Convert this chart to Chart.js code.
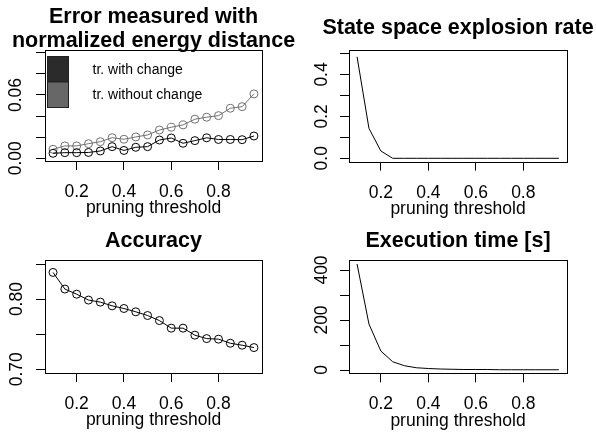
<!DOCTYPE html>
<html lang="en">
<head>
<meta charset="UTF-8" />
<title>Pruning threshold</title>
<style>
  body { margin: 0; background: #fff; }
  .wrap { position: relative; width: 596px; height: 432px; }
  .wrap canvas { position: absolute; left: 0; top: 0; }
</style>
</head>
<body>
<div class="wrap">
  <canvas id="err" width="596" height="432"></canvas>
  <canvas id="expl" width="596" height="432"></canvas>
  <canvas id="acc" width="596" height="432"></canvas>
  <canvas id="time" width="596" height="432"></canvas>
</div>

<script src="https://cdn.jsdelivr.net/npm/chart.js@4.4.0/dist/chart.umd.min.js"></script>
<script>
// ---- data ----
const thresholds = [0.1, 0.15, 0.2, 0.25, 0.3, 0.35, 0.4, 0.45, 0.5, 0.55, 0.6, 0.65, 0.7, 0.75, 0.8, 0.85, 0.9, 0.95];
const errWithChange = [0.0047, 0.0053, 0.0053, 0.0055, 0.0069, 0.0110, 0.0074, 0.0104, 0.0110, 0.0173, 0.0192, 0.0142, 0.0167, 0.0194, 0.0178, 0.0178, 0.0176, 0.0211];
const errWithoutChange = [0.0085, 0.0117, 0.0117, 0.0138, 0.0157, 0.0195, 0.0180, 0.0202, 0.0221, 0.0268, 0.0294, 0.0316, 0.0370, 0.0389, 0.0404, 0.0474, 0.0489, 0.0610];
const explosionRate = [0.484, 0.143, 0.035, 0, 0, 0, 0, 0, 0, 0, 0, 0, 0, 0, 0, 0, 0, 0];
const accuracy = [0.838, 0.8143, 0.807, 0.7986, 0.7957, 0.7904, 0.7866, 0.7819, 0.7766, 0.7694, 0.7586, 0.7586, 0.7486, 0.7437, 0.7429, 0.7371, 0.7343, 0.7309];
const execTime = [424, 184, 76, 33, 17, 9, 6, 4, 3, 2, 2, 2, 1, 1, 1, 1, 1, 1];

const xTicks = [0.2, 0.4, 0.6, 0.8];
const xTickLabels = ["0.2", "0.4", "0.6", "0.8"];
const errTicks = [0, 0.02, 0.04, 0.06, 0.08, 0.10];
const errTickLabels = ["0.00", "", "", "0.06", "", ""];
const explTicks = [0, 0.1, 0.2, 0.3, 0.4, 0.5];
const explTickLabels = ["0.0", "", "0.2", "", "0.4", ""];
const accTicks = [0.70, 0.75, 0.80, 0.85];
const accTickLabels = ["0.70", "", "0.80", ""];
const timeTicks = [0, 100, 200, 300, 400];
const timeTickLabels = ["0", "", "200", "", "400"];

// ---- look ----
const FONT = "'Liberation Sans', Arial, Helvetica, sans-serif";
const TICK_SIZE = 17.5;
const TICK_LEN = 9;
const X_AXIS_H = 55;
const W = 596, H = 432;

Chart.defaults.font.family = FONT;
Chart.defaults.color = "#000";

const measure = document.createElement("canvas").getContext("2d");
function yPadding(box, labels, midX) {
  measure.font = TICK_SIZE + "px " + FONT;
  const widest = Math.max(...labels.map(l => measure.measureText(l).width));
  return box.l - TICK_LEN - midX - widest / 2;
}

const points = ys => thresholds.map((x, i) => ({ x: x, y: ys[i] }));

const rBox = {
  id: "rBox",
  afterDatasetsDraw(chart) {
    const a = chart.chartArea, ctx = chart.ctx;
    ctx.save();
    ctx.strokeStyle = "#000";
    ctx.lineWidth = 1;
    ctx.strokeRect(Math.round(a.left) + 0.5, Math.round(a.top) + 0.5,
      Math.round(a.right) - Math.round(a.left), Math.round(a.bottom) - Math.round(a.top));
    ctx.restore();
  }
};

const rTitle = {
  id: "rTitle",
  afterDraw(chart, args, opts) {
    const a = chart.chartArea, ctx = chart.ctx;
    ctx.save();
    ctx.font = "bold 21.5px " + FONT;
    ctx.fillStyle = "#000";
    ctx.textAlign = "center";
    ctx.textBaseline = "alphabetic";
    opts.lines.forEach((t, i) => ctx.fillText(t, (a.left + a.right) / 2, opts.baselines[i]));
    ctx.restore();
  }
};

const rLegend = {
  id: "rLegend",
  afterDraw(chart, args, opts) {
    if (!opts.fills) return;
    const a = chart.chartArea, ctx = chart.ctx;
    ctx.save();
    ctx.font = "14px " + FONT;
    ctx.textBaseline = "middle";
    ctx.textAlign = "left";
    chart.data.datasets.forEach((ds, i) => {
      const x = a.left + 2.5, y = a.top + 6.5 + i * 25.5;
      ctx.fillStyle = opts.fills[i];
      ctx.fillRect(x, y, 21, 25.5);
      ctx.strokeStyle = "#222";
      ctx.lineWidth = 1;
      ctx.strokeRect(x, y, 21, 25.5);
      ctx.fillStyle = "#000";
      ctx.fillText(ds.label, a.left + 47.5, y + 13.5);
    });
    ctx.restore();
  }
};

function panel(id, box, y, datasets, title, legend) {
  return new Chart(document.getElementById(id), {
    type: "line",
    data: { datasets: datasets },
    plugins: [rBox, rTitle, rLegend],
    options: {
      responsive: false,
      animation: false,
      layout: { padding: { left: 0, top: box.t, right: W - box.r, bottom: H - box.b - X_AXIS_H } },
      plugins: {
        legend: { display: false },
        tooltip: { enabled: false },
        rTitle: title,
        rLegend: legend || {}
      },
      elements: { line: { tension: 0 } },
      scales: {
        x: {
          type: "linear",
          bounds: "data",
          min: 0.066, max: 0.984,
          afterBuildTicks: s => { s.ticks = xTicks.map(v => ({ value: v })); },
          afterFit: s => { s.height = X_AXIS_H; },
          ticks: {
            autoSkip: false, maxRotation: 0, padding: 11.5,
            font: { size: TICK_SIZE },
            callback: (v, i) => xTickLabels[i]
          },
          grid: { drawOnChartArea: false, drawTicks: true, tickLength: TICK_LEN, color: "#000" },
          border: { display: false },
          title: { display: true, text: "pruning threshold", font: { size: TICK_SIZE }, padding: { top: 0, bottom: -3 } }
        },
        y: {
          type: "linear",
          bounds: "data",
          min: y.min, max: y.max,
          afterBuildTicks: s => { s.ticks = y.ticks.map(v => ({ value: v })); },
          afterFit: s => { s.width = box.l; },
          ticks: {
            autoSkip: false, minRotation: 90, maxRotation: 90, crossAlign: "center",
            padding: yPadding(box, y.labels, y.midX),
            font: { size: TICK_SIZE },
            callback: (v, i) => y.labels[i]
          },
          grid: { drawOnChartArea: false, drawTicks: true, tickLength: TICK_LEN, color: "#000" },
          border: { display: false }
        }
      }
    }
  });
}

const dotted = (label, ys, color) => ({
  label: label, data: points(ys), borderColor: color, borderWidth: 1,
  pointRadius: 4, pointBorderColor: color, pointBorderWidth: 1,
  pointBackgroundColor: "rgba(0,0,0,0)", backgroundColor: "rgba(0,0,0,0)"
});
const plain = (label, ys) => ({
  label: label, data: points(ys), borderColor: "#000", borderWidth: 1, pointRadius: 0
});

panel("err", { l: 45, t: 50, r: 262, b: 161 },
  { min: -0.0026, max: 0.1026, ticks: errTicks, labels: errTickLabels, midX: 16 },
  [dotted("tr. with change", errWithChange, "#000"),
   dotted("tr. without change", errWithoutChange, "#707070")],
  { lines: ["Error measured with", "normalized energy distance"], baselines: [23, 47] },
  { fills: ["#2b2b2b", "#676767"] });

panel("expl", { l: 349, t: 49.5, r: 567, b: 161.7 },
  { min: -0.0162, max: 0.519, ticks: explTicks, labels: explTickLabels, midX: 322 },
  [plain("explosion rate", explosionRate)],
  { lines: ["State space explosion rate"], baselines: [34] });

panel("acc", { l: 45, t: 260, r: 262, b: 373 },
  { min: 0.6947, max: 0.8557, ticks: accTicks, labels: accTickLabels, midX: 17 },
  [dotted("accuracy", accuracy, "#000")],
  { lines: ["Accuracy"], baselines: [246.5] });

panel("time", { l: 349, t: 260, r: 567, b: 373.3 },
  { min: -13.2, max: 440, ticks: timeTicks, labels: timeTickLabels, midX: 322 },
  [plain("execution time", execTime)],
  { lines: ["Execution time [s]"], baselines: [246.5] });
</script>
</body>
</html>
